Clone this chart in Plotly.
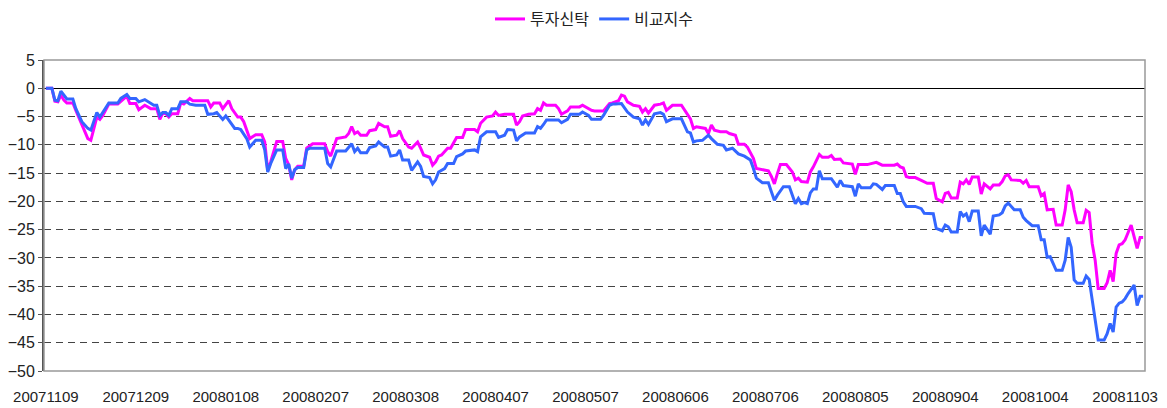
import plotly.graph_objects as go
import pandas as pd

START = "2007-11-09"

# Day offsets (calendar days from 20071109) and cumulative returns (%)
fund_days = [0, 2, 3, 4, 5, 6, 7, 9, 10, 12, 14, 15, 17, 18, 19, 21, 24, 27, 28, 30, 31, 33, 35, 37,
             38, 39, 40, 41, 42, 44, 45, 46, 48, 49, 54, 55, 56, 58, 59, 61, 62, 64, 65,
             66, 67, 68, 70, 72, 73, 74, 75, 77, 79, 80, 81, 82, 83, 84, 86, 87, 89, 93, 94, 95,
             97, 100, 101, 102, 103, 104, 105, 107, 108, 110, 111, 113, 114, 115, 117, 118, 119,
             121, 122, 124, 125, 126, 128, 129, 130, 131, 132, 134, 135, 136, 137, 139, 140, 143,
             144, 145, 147, 149, 150, 151, 153, 156, 157, 158, 159, 161, 163, 164, 165, 166, 167,
             170, 171, 172, 174, 175, 178, 179, 180, 182, 183, 186, 188, 189, 191, 192, 193, 194,
             196, 198, 199, 200, 201, 203, 205, 206, 207, 209, 212, 214, 215, 216, 217, 220, 221,
             222, 223, 225, 227, 228, 230, 231, 233, 234, 236, 237, 239, 241, 242, 243, 244, 245,
             247, 249, 250, 251, 252, 254, 255, 256, 258, 259, 261, 262, 263, 265, 266, 269, 270,
             271, 274, 275, 277, 279, 283, 284, 285, 286, 287, 288, 290, 292, 294, 296, 297, 299,
             300, 301, 302, 304, 305, 306, 307, 308, 309, 311, 312, 313, 315, 316, 318, 319, 320,
             321, 322, 325, 326, 327, 328, 331, 332, 333, 334, 336, 337, 339, 340, 341, 342, 343,
             344, 346, 347, 348, 349, 350, 351, 353, 354, 355, 356, 357, 358, 359, 360, 361, 362,
             364, 365, 366]
fund_values = [0, 0, -2.3, -2.4, -1.2, -2.1, -2.6, -2.6, -3.9, -6.5, -8.9, -9.2, -5.1, -5.5, -4.8,
               -2.8, -2.8, -1.4, -2.7, -2.7, -3.8, -3.0, -3.6, -3.6,
               -5.5, -4.4, -4.5, -5.1, -4.5, -4.5, -2.6, -2.8, -1.8, -2.2, -2.2, -3.3, -2.6, -2.6,
               -3.6, -2.2, -3.6, -5.1, -5.1,
               -5.9, -7.4, -8.9, -8.2, -8.2, -9.5, -14.5, -13.0, -9.4, -9.4, -12.4, -13.5, -16.2,
               -14.4, -13.8, -13.8, -10.6, -9.8, -9.8, -11.2, -12.0,
               -8.9, -8.6, -8.0, -6.8, -8.0, -7.7, -8.3, -8.3, -7.5, -7.3, -6.2, -6.8, -6.8, -8.5,
               -8.3, -7.5, -8.9,
               -10.4, -10.6, -9.5, -10.6, -11.8, -12.2, -13.6, -13.0, -12.0, -11.8, -10.6, -10.6,
               -9.5, -8.7, -8.7, -7.3, -7.3,
               -7.7, -6.2, -5.1, -4.9, -4.2, -4.8, -4.6, -4.6, -6.5, -5.9, -4.9, -4.6, -4.5, -3.6,
               -3.9, -2.6, -3.0,
               -3.0, -3.6, -4.6, -4.0, -3.3, -3.3, -3.0, -3.3, -3.9, -4.0, -4.0, -2.7, -2.6, -2.2,
               -1.2, -1.4, -2.4,
               -3.0, -3.2, -4.2, -3.6, -4.4, -3.0, -2.8, -2.6, -3.9, -3.0, -3.0, -4.5, -5.4, -7.1,
               -6.8, -7.1, -8.0,
               -6.5, -7.4, -7.7, -7.7, -8.0, -8.3, -9.9, -9.9, -10.4, -12.4, -14.2, -14.4, -14.6,
               -15.6, -16.9, -15.1, -13.5,
               -13.5, -14.8, -16.2, -15.9, -16.5, -16.6, -14.8, -13.9, -11.7, -12.2, -12.2, -11.9,
               -12.6, -12.5, -13.2, -13.4, -15.2,
               -13.5, -13.5, -13.4, -13.1, -13.6, -13.6, -13.4, -13.9, -14.1, -15.6, -15.8, -15.8,
               -16.3, -16.8, -16.8, -19.5, -20.1,
               -18.6, -18.4, -19.4, -19.4, -16.6, -16.9, -16.2, -17.0, -15.7, -15.7, -18.7, -16.9,
               -17.8, -17.1, -17.1, -16.5, -15.5,
               -15.3, -16.2, -16.3, -16.8, -16.3, -17.4, -17.4, -19.0, -18.6, -21.5, -21.4, -24.2,
               -24.2, -21.5, -17.1, -18.3, -21.5,
               -23.8, -23.8, -21.6, -22.0, -27.4, -30.4, -35.4, -35.4, -34.4, -32.2, -34.2, -29.2,
               -27.7, -27.5, -26.8, -25.5, -24.2,
               -28.3, -26.4, -26.4]

bench_days = [0, 2, 3, 4, 5, 6, 7, 9, 10, 12, 14, 15, 17, 18, 19, 21, 24, 25, 27, 28, 30, 31, 33,
              35, 36, 37, 38, 39, 40, 41, 42, 44, 45, 47, 48, 50, 53, 54, 56, 57, 59, 60, 61, 62,
              63, 64, 65, 67, 68, 70, 72, 73, 74, 75, 77, 79, 80, 81, 82, 83, 84, 86, 87, 88, 93,
              94, 95, 97, 100, 102, 103, 104, 105, 107, 108, 110, 111, 113, 114, 115, 117, 118,
              119, 121, 122, 124, 125, 126, 128, 129, 130, 131, 133, 134, 136, 137, 139, 140, 143,
              144, 145, 147, 150, 151, 153, 154, 156, 157, 158, 160, 163, 164, 165, 166, 167, 171,
              172, 174, 175, 178, 179, 181, 182, 185, 186, 188, 189, 190, 192, 194, 196, 198, 199,
              200, 201, 203, 205, 206, 207, 209, 212, 214, 215, 216, 217, 219, 221, 222, 224, 226,
              227, 229, 231, 233, 235, 236, 237, 239, 241, 242, 243, 244, 246, 248, 249, 250, 251,
              252, 253, 254, 255, 256, 257, 258, 259, 262, 264, 265, 266, 269, 270, 271, 272, 275,
              276, 277, 279, 280, 283, 284, 285, 286, 287, 290, 292, 293, 296, 297, 299, 300, 301,
              302, 304, 305, 306, 307, 308, 309, 311, 312, 313, 315, 316, 318, 319, 320, 321, 323,
              325, 326, 327, 329, 331, 332, 333, 334, 335, 337, 339, 340, 341, 342, 343, 344, 346,
              347, 348, 349, 350, 351, 353, 354, 355, 356, 357, 358, 359, 360, 361, 362, 363, 364,
              365, 366]
bench_values = [0, 0, -2.1, -2.2, -0.5, -1.2, -1.9, -1.9, -3.6, -5.9, -7.1, -7.4, -4.3, -5.1, -4.2,
                -2.6, -2.6, -1.8, -1.1, -1.8, -1.8, -2.4, -2.0,
                -2.7, -3.0, -3.0, -4.8, -4.3, -4.3, -4.8, -3.6, -3.6, -2.4, -2.4, -2.8, -3.0, -3.0,
                -4.6, -4.5, -4.3, -5.5, -4.9, -5.6, -6.2,
                -7.1, -7.1, -7.3, -8.9, -10.4, -9.2, -9.2, -10.9, -14.8, -13.3, -10.9, -10.9, -14.2,
                -13.4, -15.9, -14.4, -14.0, -14.0, -10.9, -10.6, -10.6,
                -13.3, -13.9, -11.1, -11.1, -9.8, -11.2, -10.6, -11.4, -11.4, -10.5, -10.2, -9.5,
                -10.4, -10.4, -12.0, -11.8, -10.9,
                -12.7, -12.7, -14.5, -13.0, -13.8, -15.6, -15.8, -16.9, -16.2, -14.8, -14.2, -13.3,
                -13.3, -12.1, -11.6, -11.1, -10.9,
                -11.2, -8.6, -7.7, -7.7, -8.7, -8.3, -7.3, -7.4, -9.3, -8.6, -7.9, -7.9, -6.8, -7.1,
                -6.4, -5.6, -5.6,
                -6.1, -5.5, -4.6, -4.6, -4.2, -4.8, -5.5, -5.5, -4.8, -3.0, -2.8, -2.8, -2.7, -4.2,
                -5.1, -5.4, -6.5,
                -5.6, -6.4, -4.5, -4.3, -4.6, -5.9, -5.4, -5.4, -7.7, -7.9, -9.5, -9.3, -9.2, -8.3,
                -8.9, -9.9, -10.1,
                -10.9, -10.6, -11.6, -12.0, -12.7, -14.2, -15.9, -16.7, -16.7, -18.3, -19.8, -18.9,
                -17.4, -17.4, -18.9, -20.4, -19.5,
                -20.4, -20.2, -20.4, -18.5, -17.8, -17.8, -14.6, -16.0, -16.0, -17.5, -16.3, -17.2,
                -17.4, -19.1, -16.9, -17.6, -17.6,
                -16.9, -17.0, -17.9, -17.2, -17.2, -18.6, -18.6, -20.1, -20.9, -20.9, -21.3, -22.1,
                -22.2, -24.8, -25.2, -24.2, -24.5,
                -25.4, -25.4, -21.8, -22.6, -22.2, -23.6, -21.7, -21.7, -26.1, -24.2, -25.8, -22.6,
                -22.4, -22.0, -20.8, -20.3, -21.5,
                -21.5, -22.8, -23.4, -24.3, -24.3, -26.8, -26.8, -29.9, -29.8, -32.2, -32.2, -30.4,
                -26.4, -28.1, -33.9, -34.5, -34.5,
                -33.2, -33.8, -37.5, -41.5, -44.5, -44.5, -43.4, -41.6, -43.1, -38.7, -38.0, -37.8,
                -37.2, -36.3, -35.5, -34.8, -38.4,
                -36.8, -36.8]

tick_labels = ["20071109", "20071209", "20080108", "20080207", "20080308", "20080407",
               "20080507", "20080606", "20080706", "20080805", "20080904", "20081004",
               "20081103"]

series_names = ["투자신탁", "비교지수"]
series_colors = ["#FF00FF", "#3366FF"]

start = pd.Timestamp(START)
to_dates = lambda days: [start + pd.Timedelta(days=d) for d in days]
tick_vals = [pd.Timestamp(t) for t in tick_labels]

fig = go.Figure()
for name, color, days, vals in [(series_names[0], series_colors[0], fund_days, fund_values),
                                (series_names[1], series_colors[1], bench_days, bench_values)]:
    fig.add_trace(go.Scatter(x=to_dates(days), y=vals, mode="lines", name=name,
                             line=dict(color=color, width=3)))

x_font = dict(family="Liberation Sans, Arial, sans-serif", size=15, color="#222")
y_font = dict(family="Liberation Sans, Arial, sans-serif", size=16, color="#222")

fig.update_layout(
    width=1167, height=408,
    margin=dict(l=44, r=22, t=60, b=37, autoexpand=False),
    plot_bgcolor="white", paper_bgcolor="white",
    showlegend=True,
    legend=dict(orientation="h", x=0.5, xanchor="center", y=0.995, yref="container",
                yanchor="top", itemwidth=30,
                font=dict(family="Noto Sans CJK KR", size=16, color="#222")),
    xaxis=dict(type="date", automargin=False,
               range=[start - pd.Timedelta(hours=15), start + pd.Timedelta(days=366, hours=15)],
               tickmode="array", tickvals=tick_vals, ticktext=tick_labels,
               showgrid=False, zeroline=False, showline=False,
               ticks="outside", ticklen=12, tickcolor="rgba(0,0,0,0)",
               tickfont=x_font),
    yaxis=dict(range=[-50, 5], dtick=5, tick0=0, automargin=False,
               showgrid=True, gridcolor="#444", griddash="7px,5px", gridwidth=1,
               zeroline=True, zerolinecolor="#000", zerolinewidth=1.2,
               showline=True, linecolor="#555", linewidth=2,
               ticks="outside", ticklen=4, tickcolor="#555", tickwidth=1,
               tickfont=y_font),
    shapes=[dict(type="rect", xref="paper", yref="paper", x0=0, x1=1, y0=0, y1=1,
                 line=dict(color="#999", width=1.5), layer="above")],
)

fig.write_html("out.html", config={"displayModeBar": False},
               post_script="document.body.style.margin='0';document.body.style.overflow='hidden';")
